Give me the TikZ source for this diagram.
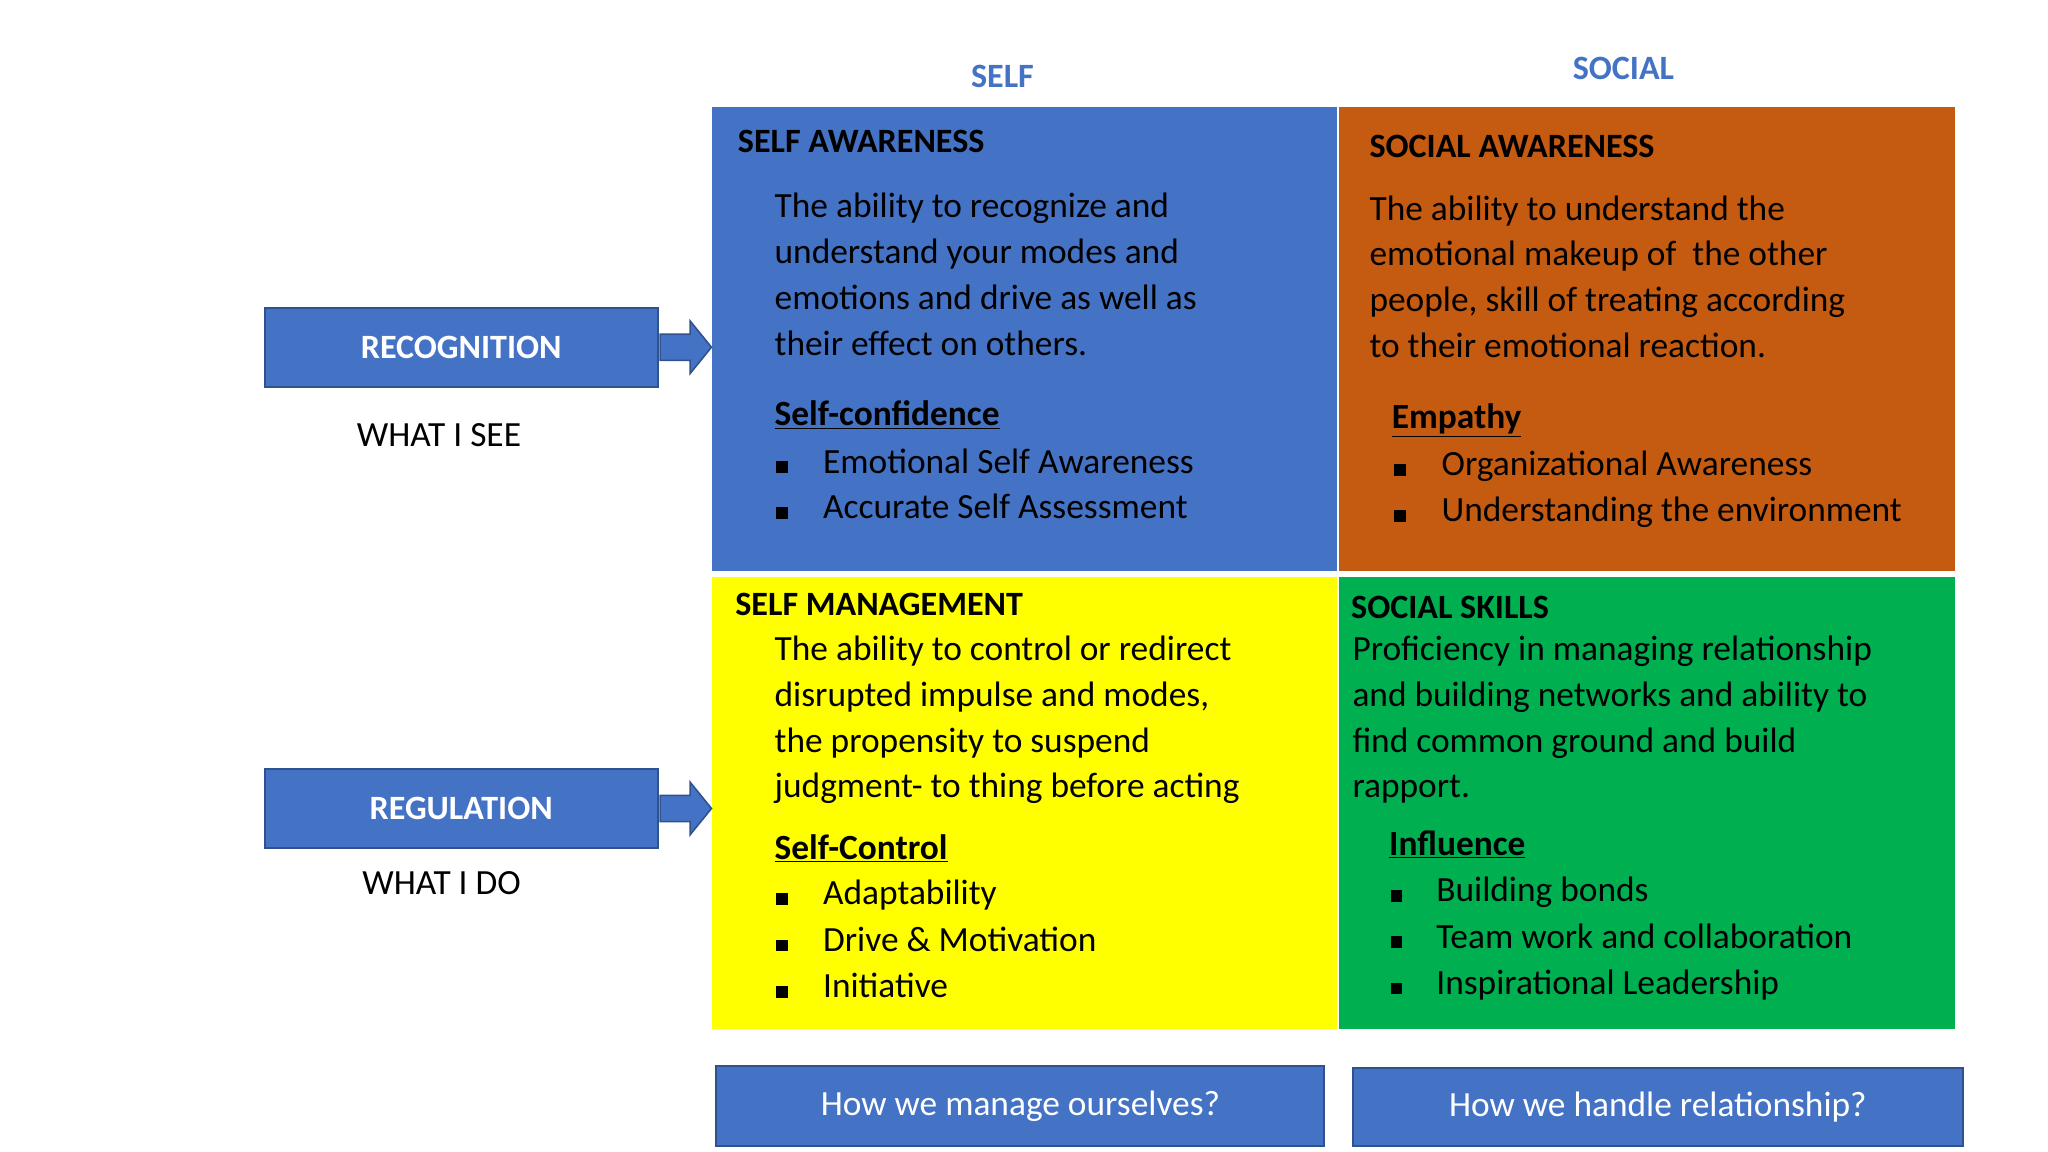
\documentclass[tikz,border=0pt]{standalone}
\usepackage{fontspec}
\setmainfont{Carlito}
\usetikzlibrary{calc}
\definecolor{sblue}{HTML}{4472C4}
\definecolor{sblued}{HTML}{2F528F}
\definecolor{sorange}{HTML}{C55A11}
\definecolor{syellow}{HTML}{FFFF00}
\definecolor{sgreen}{HTML}{00B050}
\tikzset{
 quad/.style={anchor=north west,inner sep=0,outer sep=0},
 txt/.style={anchor=base west,inner sep=0,font=\fontsize{27}{32}\selectfont},
 hd/.style={anchor=base west,inner sep=0,font=\bfseries\fontsize{26}{30}\selectfont},
 lab/.style={draw=sblued,line width=1.5pt,fill=sblue,text=white,minimum height=60,inner sep=0},
 col/.style={text=sblue,font=\bfseries\fontsize{26}{30}\selectfont,inner sep=0},
 arr/.style={fill=sblue,draw=sblued,line width=1.2pt},
 bul/.style={anchor=base west,inner sep=0}
}
\newcommand{\bsq}{\rule{9pt}{9pt}}
\begin{document}
\begin{tikzpicture}[x=1pt,y=-1pt]
\useasboundingbox (0,0) rectangle (1563,879);
\node[col] (self) at (765,58) {SELF};
\node[col] (social) at (1239,52) {SOCIAL};
\fill[sblue] (543,82) rectangle (1020,436);
\fill[sorange] (1022,82) rectangle (1492,436);
\fill[syellow] (543,440) rectangle (1020,785);
\fill[sgreen] (1022,440) rectangle (1492,785);
% self awareness
\node[hd] (sah) at (563,116) {SELF AWARENESS};
\foreach \t [count=\i] in {The ability to recognize and,understand your modes and,emotions and drive as well as,their effect on others.}
  \node[txt] (sa\i) at (591,131+35*\i) {\t};
\node[hd,font=\bfseries\fontsize{27}{30}\selectfont] (sac) at (591,325) {\underline{Self-confidence}};
\foreach \t [count=\i] in {Emotional Self Awareness,Accurate Self Assessment}{
  \node[bul] (sab\i) at (592,326+35*\i) {\bsq};
  \node[txt] (sat\i) at (628,326+35*\i) {\t};}
% social awareness
\node[hd] (oah) at (1045,120) {SOCIAL AWARENESS};
\foreach \t [count=\i] in {The ability to understand the,emotional makeup of\ \ the other,{people, skill of treating according},to their emotional reaction.}
  \node[txt] (oa\i) at (1045,133+35*\i) {\t};
\node[hd,font=\bfseries\fontsize{27}{30}\selectfont] (oac) at (1062,327) {\underline{Empathy}};
\foreach \t [count=\i] in {Organizational Awareness,Understanding the environment}{
  \node[bul] (oab\i) at (1064,328+35*\i) {\bsq};
  \node[txt] (oat\i) at (1100,328+35*\i) {\t};}
% self management
\node[hd] (smh) at (561,470) {SELF MANAGEMENT};
\foreach \t [count=\i] in {The ability to control or redirect,{disrupted impulse and modes,},the propensity to suspend,judgment- to thing before acting}
  \node[txt] (sm\i) at (591,469+35*\i) {\t};
\node[hd,font=\bfseries\fontsize{27}{30}\selectfont] (smc) at (591,656) {\underline{Self-Control}};
\foreach \t [count=\i] in {Adaptability,Drive \& Motivation,Initiative}{
  \node[bul] (smb\i) at (592,655+35.5*\i) {\bsq};
  \node[txt] (smt\i) at (628,655+35.5*\i) {\t};}
% social skills
\node[hd] (ssh) at (1031,472) {SOCIAL SKILLS};
\foreach \t [count=\i] in {Proficiency in managing relationship,and building networks and ability to,find common ground and build,rapport.}
  \node[txt] (ss\i) at (1032,469+35*\i) {\t};
\node[hd,font=\bfseries\fontsize{27}{30}\selectfont] (ssc) at (1060,653) {\underline{Influence}};
\foreach \t [count=\i] in {Building bonds,Team work and collaboration,Inspirational Leadership}{
  \node[bul] (ssb\i) at (1061,653+35.3*\i) {\bsq};
  \node[txt] (sst\i) at (1096,653+35.3*\i) {\t};}
% left labels
\node[lab,minimum width=300,font=\bfseries\fontsize{26}{30}\selectfont] (rec) at (352,265) {RECOGNITION};
\node[txt,anchor=center] (see) at (335,332) {WHAT I SEE};
\node[lab,minimum width=300,font=\bfseries\fontsize{26}{30}\selectfont] (reg) at (352,617) {REGULATION};
\node[txt,anchor=center] (do) at (337,674) {WHAT I DO};
\coordinate (t1) at (543,265);
\coordinate (t2) at (543,617);
\foreach \s/\t in {rec/t1,reg/t2}
  \draw[arr] ($(\s.east)+(1,-10)$) -- ($(\s.east)+(24,-10)$) -- ($(\s.east)+(24,-20)$) -- (\t) -- ($(\s.east)+(24,20)$) -- ($(\s.east)+(24,10)$) -- ($(\s.east)+(1,10)$) -- cycle;
% bottom
\node[lab,anchor=north west,minimum width=464,minimum height=61,font=\fontsize{27}{30}\selectfont] (b1) at (546,813) {How we manage ourselves?};
\node[lab,anchor=north west,minimum width=465,minimum height=60,font=\fontsize{27}{30}\selectfont] (b2) at (1032,814) {How we handle relationship?};
\end{tikzpicture}
\end{document}
